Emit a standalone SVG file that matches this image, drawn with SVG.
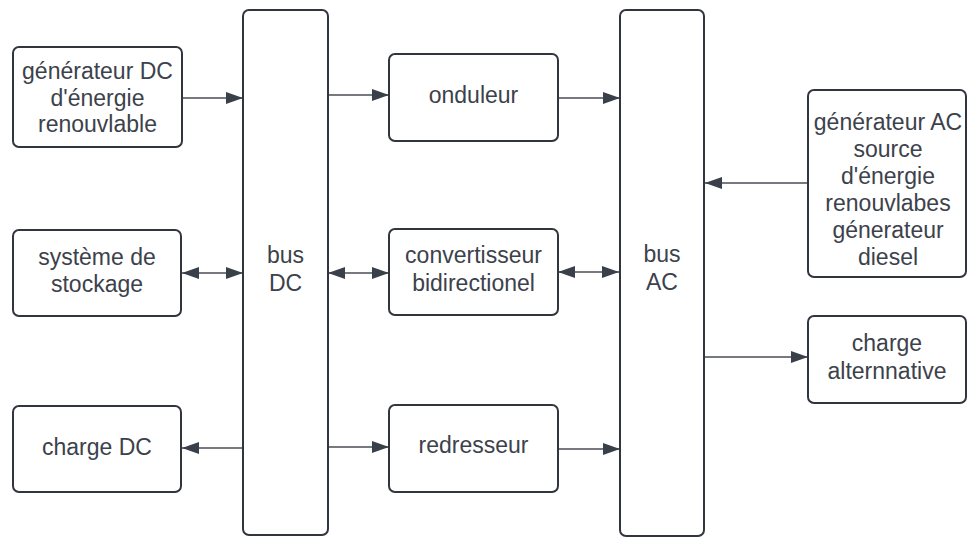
<svg xmlns="http://www.w3.org/2000/svg" width="971" height="538" viewBox="0 0 971 538">
  <defs>
    <marker id="arrow" markerUnits="userSpaceOnUse" markerWidth="17" markerHeight="13" viewBox="0 0 17 13" refX="17" refY="6.5" orient="auto-start-reverse">
      <path d="M0,0.5 L17,6.5 L0,12.5 z" fill="#3a404a"/>
    </marker>
    <style>
      .box { fill: #ffffff; stroke: #30353e; stroke-width: 2; }
      .lbl { font-family: "Liberation Sans", Arial, sans-serif; font-size: 23px; fill: #3c424b; text-anchor: middle; }
      .edge { fill: none; stroke: #484d56; stroke-width: 1.5; }
      .one { marker-end: url(#arrow); }
      .two { marker-start: url(#arrow); marker-end: url(#arrow); }
    </style>
  </defs>
  <rect width="971" height="538" fill="#ffffff"/>

  <g id="connectors">
    <line class="edge one" x1="182" y1="98" x2="243" y2="98"/>
    <line class="edge one" x1="328" y1="95" x2="389" y2="95"/>
    <line class="edge one" x1="558" y1="98" x2="620" y2="98"/>
    <line class="edge two" x1="182" y1="273" x2="243" y2="273"/>
    <line class="edge two" x1="328" y1="273" x2="389" y2="273"/>
    <line class="edge two" x1="558" y1="272" x2="619" y2="272"/>
    <line class="edge one" x1="808" y1="183" x2="705" y2="183"/>
    <line class="edge one" x1="704" y1="357" x2="808" y2="357"/>
    <line class="edge one" x1="243" y1="448" x2="182" y2="448"/>
    <line class="edge one" x1="328" y1="447" x2="389" y2="447"/>
    <line class="edge one" x1="558" y1="449" x2="620" y2="449"/>
  </g>

  <g id="gen-dc">
    <rect class="box" x="13" y="47" width="169" height="100" rx="6"/>
    <text class="lbl" x="97.5" y="79">générateur DC</text>
    <text class="lbl" x="97.5" y="105.5">d'énergie</text>
    <text class="lbl" x="97.5" y="132">renouvlable</text>
  </g>

  <g id="stockage">
    <rect class="box" x="13" y="230" width="168" height="86" rx="6"/>
    <text class="lbl" x="97" y="265">système de</text>
    <text class="lbl" x="97" y="292">stockage</text>
  </g>

  <g id="charge-dc">
    <rect class="box" x="13" y="406" width="168" height="86" rx="6"/>
    <text class="lbl" x="97" y="455">charge DC</text>
  </g>

  <g id="bus-dc">
    <rect class="box" x="243" y="10" width="85" height="525" rx="6"/>
    <text class="lbl" x="285.5" y="263">bus</text>
    <text class="lbl" x="285.5" y="291">DC</text>
  </g>

  <g id="onduleur">
    <rect class="box" x="389" y="54" width="169" height="87" rx="6"/>
    <text class="lbl" x="473.5" y="103">onduleur</text>
  </g>

  <g id="convertisseur">
    <rect class="box" x="389" y="229" width="169" height="86" rx="6"/>
    <text class="lbl" x="473.5" y="263">convertisseur</text>
    <text class="lbl" x="473.5" y="291">bidirectionel</text>
  </g>

  <g id="redresseur">
    <rect class="box" x="389" y="405" width="169" height="87" rx="6"/>
    <text class="lbl" x="473.5" y="453">redresseur</text>
  </g>

  <g id="bus-ac">
    <rect class="box" x="620" y="10" width="84" height="526" rx="6"/>
    <text class="lbl" x="662" y="262">bus</text>
    <text class="lbl" x="662" y="290">AC</text>
  </g>

  <g id="gen-ac">
    <rect class="box" x="808" y="90" width="158" height="187" rx="6"/>
    <text class="lbl" x="888" y="130">générateur AC</text>
    <text class="lbl" x="888" y="157">source</text>
    <text class="lbl" x="888" y="184">d'énergie</text>
    <text class="lbl" x="888" y="211">renouvlabes</text>
    <text class="lbl" x="888" y="238">génerateur</text>
    <text class="lbl" x="888" y="265">diesel</text>
  </g>

  <g id="charge-ac">
    <rect class="box" x="808" y="316" width="158" height="87" rx="6"/>
    <text class="lbl" x="887" y="351">charge</text>
    <text class="lbl" x="887" y="379">alternnative</text>
  </g>
</svg>
